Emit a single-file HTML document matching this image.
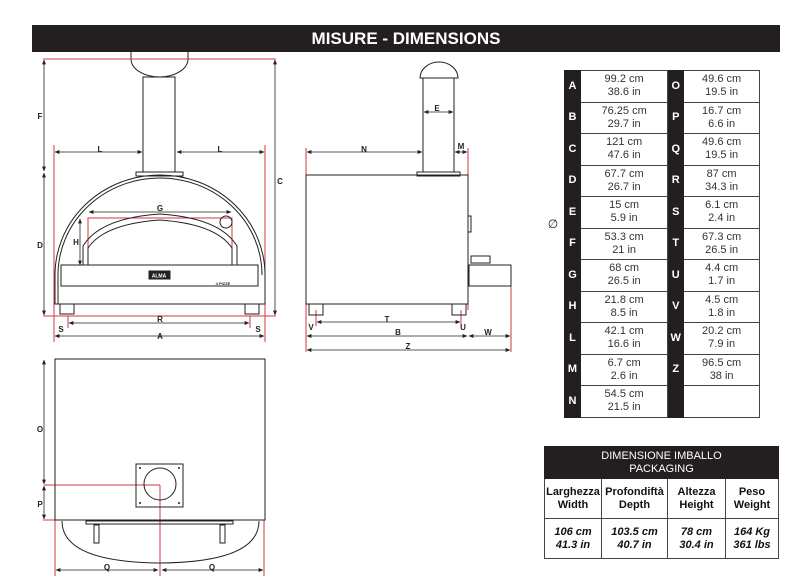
<!DOCTYPE html>
<html><head><meta charset="utf-8"><style>
body{margin:0;background:#fff;width:796px;height:584px;overflow:hidden;position:relative;font-family:"Liberation Sans",sans-serif}
.bar{position:absolute;left:32px;top:25px;width:748px;height:27px;background:#231f20;color:#fff;font-weight:bold;font-size:17px;text-align:center;line-height:28px}
table{border-collapse:collapse;position:absolute}
#t1{left:564px;top:70px;width:196px}
#t1 td{height:30.5px;border:1.2px solid #444;font-size:11px;text-align:center;line-height:13px;color:#333;padding:0}
#t1 td.k{background:#231f20;color:#fff;font-weight:bold;width:15px;border-color:#231f20}
#t2{left:544px;top:446px;width:235px}
#t2 td{border:1.5px solid #444;text-align:center;font-size:11px;line-height:13px;color:#111;padding:0}
#t2 .h{background:#231f20;color:#fff;height:31px;border-color:#231f20}
</style></head><body>
<svg width="796" height="584" style="position:absolute;left:0;top:0" font-family="Liberation Sans" font-weight="bold" font-size="8">
<defs><marker id="a" markerWidth="6" markerHeight="6" refX="5.5" refY="3" orient="auto-start-reverse"><path d="M0,0.5 L6,3 L0,5.5z" fill="#222"/></marker></defs>
<g stroke="#222" stroke-width="1" fill="none">
<path d="M131,52 L131,59 A28.5,18 0 0 0 188,59 L188,52"/>
</g>
<g stroke="#d23a45" stroke-width="1" fill="none">
<line x1="43" y1="59" x2="276" y2="59"/><line x1="54" y1="145" x2="54" y2="342"/><line x1="265" y1="145" x2="265" y2="342"/>
<line x1="43" y1="316" x2="276" y2="316"/>
<polyline points="88,266 88,218 232,218 232,260"/>
<line x1="306" y1="148" x2="306" y2="352"/><line x1="468" y1="148" x2="468" y2="310"/><line x1="511" y1="280" x2="511" y2="352"/>
<line x1="44" y1="485" x2="160" y2="485"/><line x1="160" y1="485" x2="160" y2="576"/><line x1="43" y1="520" x2="55" y2="520"/>
<line x1="55" y1="520" x2="55" y2="576"/><line x1="264" y1="520" x2="264" y2="576"/>
<line x1="68" y1="316" x2="68" y2="328"/><line x1="250" y1="316" x2="250" y2="328"/>
<line x1="316" y1="310" x2="316" y2="326"/><line x1="461" y1="310" x2="461" y2="326"/>
</g>
<g stroke="#222" stroke-width="1" fill="none">
<rect x="143" y="77" width="32" height="95"/><rect x="136" y="172" width="47" height="4"/>
<path d="M55,304 L55,275 A105,100 0 0 1 265,275 L265,304 Z"/>
<path d="M58,304 L58,275 A102,97 0 0 1 262,275"/>
<path d="M83,266 L83,246 Q100,218 160,214 Q220,218 237,246 L237,266"/>
<path d="M88,266 L88,248 Q104,224 160,220 Q216,224 232,248 L232,266"/>
<rect x="61" y="265" width="197" height="21" fill="#fff"/>
<rect x="149" y="271" width="21" height="8" fill="#222"/>
<rect x="60" y="304" width="14" height="10"/><rect x="245" y="304" width="14" height="10"/>
<circle cx="226" cy="222" r="6"/>
<path d="M420,78 A19,16 0 0 1 458,78 Z"/>
<rect x="423" y="78" width="31" height="94"/><rect x="417" y="172" width="43" height="4"/>
<rect x="306" y="175" width="162" height="129"/>
<rect x="468" y="216" width="3" height="16"/>
<rect x="469" y="265" width="42" height="21"/><rect x="471" y="256" width="19" height="7"/>
<rect x="309" y="304" width="14" height="11"/><rect x="452" y="304" width="14" height="11"/>
<rect x="55" y="359" width="210" height="161"/>
<rect x="136" y="464" width="47" height="43"/><circle cx="160" cy="484" r="16"/>
<path d="M62,521 Q62,562 160,563 Q259,562 259,521"/>
<rect x="86" y="521" width="147" height="3"/>
<rect x="94" y="525" width="5" height="18"/><rect x="220" y="525" width="5" height="18"/>
</g>
<g fill="#222"><circle cx="140" cy="468" r="1"/><circle cx="179" cy="468" r="1"/><circle cx="140" cy="503" r="1"/><circle cx="179" cy="503" r="1"/></g>
<g stroke="#222" stroke-width="0.8" marker-start="url(#a)" marker-end="url(#a)">
<line x1="44" y1="60" x2="44" y2="171"/><line x1="44" y1="173" x2="44" y2="315"/><line x1="275" y1="60" x2="275" y2="315"/>
<line x1="55" y1="152" x2="142" y2="152"/><line x1="177" y1="152" x2="264" y2="152"/>
<line x1="89" y1="212" x2="231" y2="212"/><line x1="80" y1="219" x2="80" y2="265"/>
<line x1="69" y1="323" x2="249" y2="323"/><line x1="55" y1="336" x2="264" y2="336"/>
<line x1="424" y1="112" x2="453" y2="112"/><line x1="307" y1="152" x2="422" y2="152"/><line x1="455" y1="152" x2="467" y2="152"/>
<line x1="317" y1="322" x2="460" y2="322"/><line x1="307" y1="336" x2="467" y2="336"/><line x1="469" y1="336" x2="510" y2="336"/>
<line x1="307" y1="350" x2="510" y2="350"/>
<line x1="44" y1="360" x2="44" y2="484"/><line x1="44" y1="486" x2="44" y2="519"/>
<line x1="56" y1="570" x2="158" y2="570"/><line x1="162" y1="570" x2="263" y2="570"/>
</g>
<g fill="#222" text-anchor="middle">
<text x="40" y="119">F</text><text x="40" y="248">D</text><text x="280" y="184">C</text>
<text x="100" y="152">L</text><text x="220" y="152">L</text><text x="160" y="211">G</text><text x="76" y="245">H</text>
<text x="160" y="322">R</text><text x="160" y="339">A</text><text x="61" y="332">S</text><text x="258" y="332">S</text>
<text x="437" y="111">E</text><text x="364" y="152">N</text><text x="461" y="149">M</text>
<text x="387" y="322">T</text><text x="398" y="335">B</text><text x="488" y="335">W</text><text x="408" y="349">Z</text>
<text x="311" y="330">V</text><text x="463" y="330">U</text>
<text x="40" y="432">O</text><text x="40" y="507">P</text><text x="107" y="570">Q</text><text x="212" y="570">Q</text>
<text x="223" y="285" font-size="4">4 PIZZE</text>
<text x="159" y="277.5" font-size="5" fill="#fff">ALMA</text>
<text x="553" y="228" font-size="12" font-weight="normal">∅</text>
</g>
</svg>
<div class="bar">MISURE - DIMENSIONS</div>
<table id="t1">
<tr><td class="k">A</td><td>99.2 cm<br>38.6 in</td><td class="k">O</td><td>49.6 cm<br>19.5 in</td></tr>
<tr><td class="k">B</td><td>76.25 cm<br>29.7 in</td><td class="k">P</td><td>16.7 cm<br>6.6 in</td></tr>
<tr><td class="k">C</td><td>121 cm<br>47.6 in</td><td class="k">Q</td><td>49.6 cm<br>19.5 in</td></tr>
<tr><td class="k">D</td><td>67.7 cm<br>26.7 in</td><td class="k">R</td><td>87 cm<br>34.3 in</td></tr>
<tr><td class="k">E</td><td>15 cm<br>5.9 in</td><td class="k">S</td><td>6.1 cm<br>2.4 in</td></tr>
<tr><td class="k">F</td><td>53.3 cm<br>21 in</td><td class="k">T</td><td>67.3 cm<br>26.5 in</td></tr>
<tr><td class="k">G</td><td>68 cm<br>26.5 in</td><td class="k">U</td><td>4.4 cm<br>1.7 in</td></tr>
<tr><td class="k">H</td><td>21.8 cm<br>8.5 in</td><td class="k">V</td><td>4.5 cm<br>1.8 in</td></tr>
<tr><td class="k">L</td><td>42.1 cm<br>16.6 in</td><td class="k">W</td><td>20.2 cm<br>7.9 in</td></tr>
<tr><td class="k">M</td><td>6.7 cm<br>2.6 in</td><td class="k">Z</td><td>96.5 cm<br>38 in</td></tr>
<tr><td class="k">N</td><td>54.5 cm<br>21.5 in</td><td class="k"></td><td></td></tr>
</table>
<table id="t2">
<tr><td class="h" colspan="4">DIMENSIONE IMBALLO<br>PACKAGING</td></tr>
<tr style="height:40px;font-weight:bold"><td style="width:56px">Larghezza<br>Width</td><td style="width:65px">Profondiftà<br>Depth</td><td style="width:57px">Altezza<br>Height</td><td>Peso<br>Weight</td></tr>
<tr style="height:40px;font-style:italic;font-weight:bold"><td>106 cm<br>41.3 in</td><td>103.5 cm<br>40.7 in</td><td>78 cm<br>30.4 in</td><td>164 Kg<br>361 lbs</td></tr>
</table>
</body></html>
